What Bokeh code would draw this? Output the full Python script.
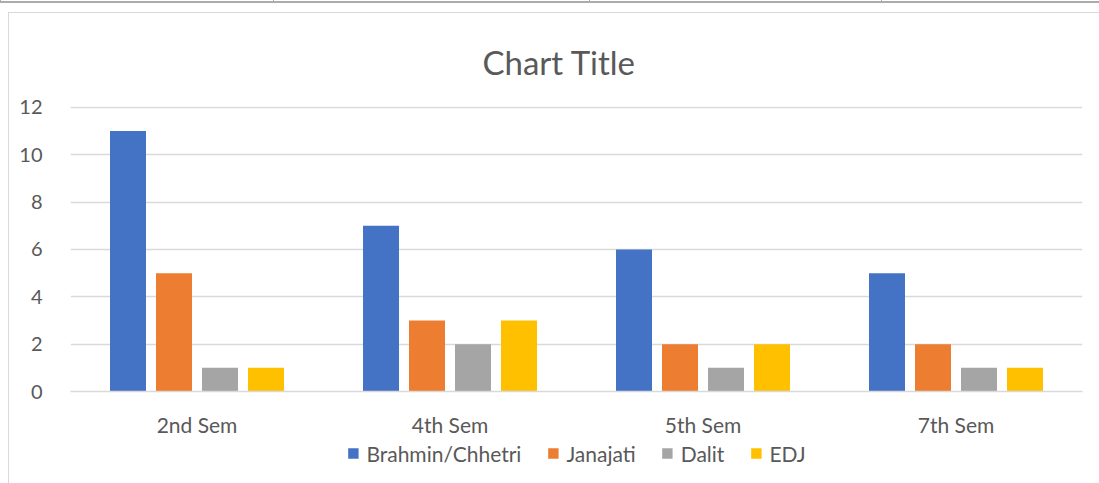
from bokeh.plotting import figure
from bokeh.models import (FactorRange, Legend, LegendItem, ColumnDataSource, Range1d,
                          SingleIntervalTicker, Div)
from bokeh.layouts import column, row
from bokeh.transform import dodge
from bokeh.embed import file_html
from bokeh.resources import INLINE

categories = ["2nd Sem", "4th Sem", "5th Sem", "7th Sem"]
series_names = ["Brahmin/Chhetri", "Janajati", "Dalit", "EDJ"]
brahmin = [11, 7, 6, 5]
janajati = [5, 3, 2, 2]
dalit = [1, 2, 1, 1]
edj = [1, 3, 2, 1]
colors = ["#4472C4", "#ED7D31", "#A5A5A5", "#FFC000"]

FONT = "Lato"
TXT = "#595959"

src = ColumnDataSource(dict(cat=categories, b=brahmin, j=janajati, d=dalit, e=edj))
cols = ["b", "j", "d", "e"]

# sheet / chart-area border strip on top
top = Div(width=1099, height=13, margin=0, text=(
    '<div style="position:relative;width:1099px;height:13px;overflow:hidden;">'
    '<div style="position:absolute;left:0;top:1px;width:1099px;height:2px;background:#ABABAB;"></div>'
    '<div style="position:absolute;left:0;top:0;width:1px;height:3px;background:#ABABAB;"></div>'
    '<div style="position:absolute;left:273px;top:0;width:1px;height:3px;background:#ABABAB;"></div>'
    '<div style="position:absolute;left:589px;top:0;width:1px;height:3px;background:#ABABAB;"></div>'
    '<div style="position:absolute;left:881px;top:0;width:1px;height:3px;background:#ABABAB;"></div>'
    '<div style="position:absolute;left:8px;top:12px;width:1091px;height:1px;background:#D9D9D9;"></div>'
    '</div>'))

left = Div(width=9, height=470, margin=0, text=(
    '<div style="position:relative;width:9px;height:470px;">'
    '<div style="position:absolute;left:8px;top:0;width:1px;height:470px;background:#D9D9D9;"></div>'
    '</div>'))

p = figure(x_range=FactorRange(*categories, range_padding=0), y_range=Range1d(0, 12.04),
           width=1090, height=426, output_backend="svg", toolbar_location=None,
           title="Chart Title", min_border_left=61, min_border_right=17,
           min_border_top=93, min_border_bottom=48, margin=0)

p.title.align = "left"
p.title.offset = 412
p.title.text_font = FONT
p.title.text_font_size = "33px"
p.title.text_font_style = "normal"
p.title.text_color = TXT
p.title.standoff = 50

pitch = 46 / 253
width = 36 / 253
for i, (col, c) in enumerate(zip(cols, colors)):
    off = (i - 1.5) * pitch
    p.vbar(x=dodge("cat", off, range=p.x_range), top=col, width=width, source=src,
           fill_color=c, line_color=None)

p.outline_line_color = None
p.ygrid.grid_line_color = "#D9D9D9"
p.ygrid.grid_line_width = 1.3
p.xgrid.grid_line_color = None
p.yaxis.ticker = SingleIntervalTicker(interval=2)
p.yaxis.axis_line_color = None
p.yaxis.major_tick_line_color = None
p.yaxis.minor_tick_line_color = None
p.yaxis.major_label_text_font = FONT
p.yaxis.major_label_text_font_size = "20px"
p.yaxis.major_label_text_color = TXT
p.yaxis.major_label_standoff = 22

p.xaxis.axis_line_color = "#D9D9D9"
p.xaxis.axis_line_width = 1.3
p.xaxis.major_tick_line_color = None
p.xaxis.minor_tick_line_color = None
p.xaxis.major_label_text_font = FONT
p.xaxis.major_label_text_font_size = "21px"
p.xaxis.major_label_text_color = TXT
p.xaxis.major_label_standoff = 14

# legend strip below the chart (zero-width series renderers, used only for legend swatches)
lf = figure(width=1090, height=28, output_backend="svg", toolbar_location=None,
            x_axis_location=None, y_axis_location=None, min_border=0, min_border_left=0,
            min_border_right=11, margin=0, x_range=p.x_range, y_range=Range1d(-20, -19))
lf.outline_line_color = None
lf.grid.grid_line_color = None
swatches = []
for i, (col, c) in enumerate(zip(cols, colors)):
    swatches.append(lf.vbar(x="cat", top=col, width=0, source=src,
                            fill_color=c, line_color=None))

legend = Legend(items=[LegendItem(label=n, renderers=[r]) for n, r in zip(series_names, swatches)],
                orientation="horizontal", location="center",
                label_text_font=FONT, label_text_font_size="21px", label_text_color=TXT,
                glyph_width=13, glyph_height=13, label_standoff=7, spacing=25,
                border_line_color=None, background_fill_alpha=0, padding=0, margin=0)
lf.add_layout(legend, "center")

layout = column(top, row(left, column(p, lf, spacing=0), spacing=0), spacing=0)
open("out.html", "w").write(file_html(layout, INLINE))
